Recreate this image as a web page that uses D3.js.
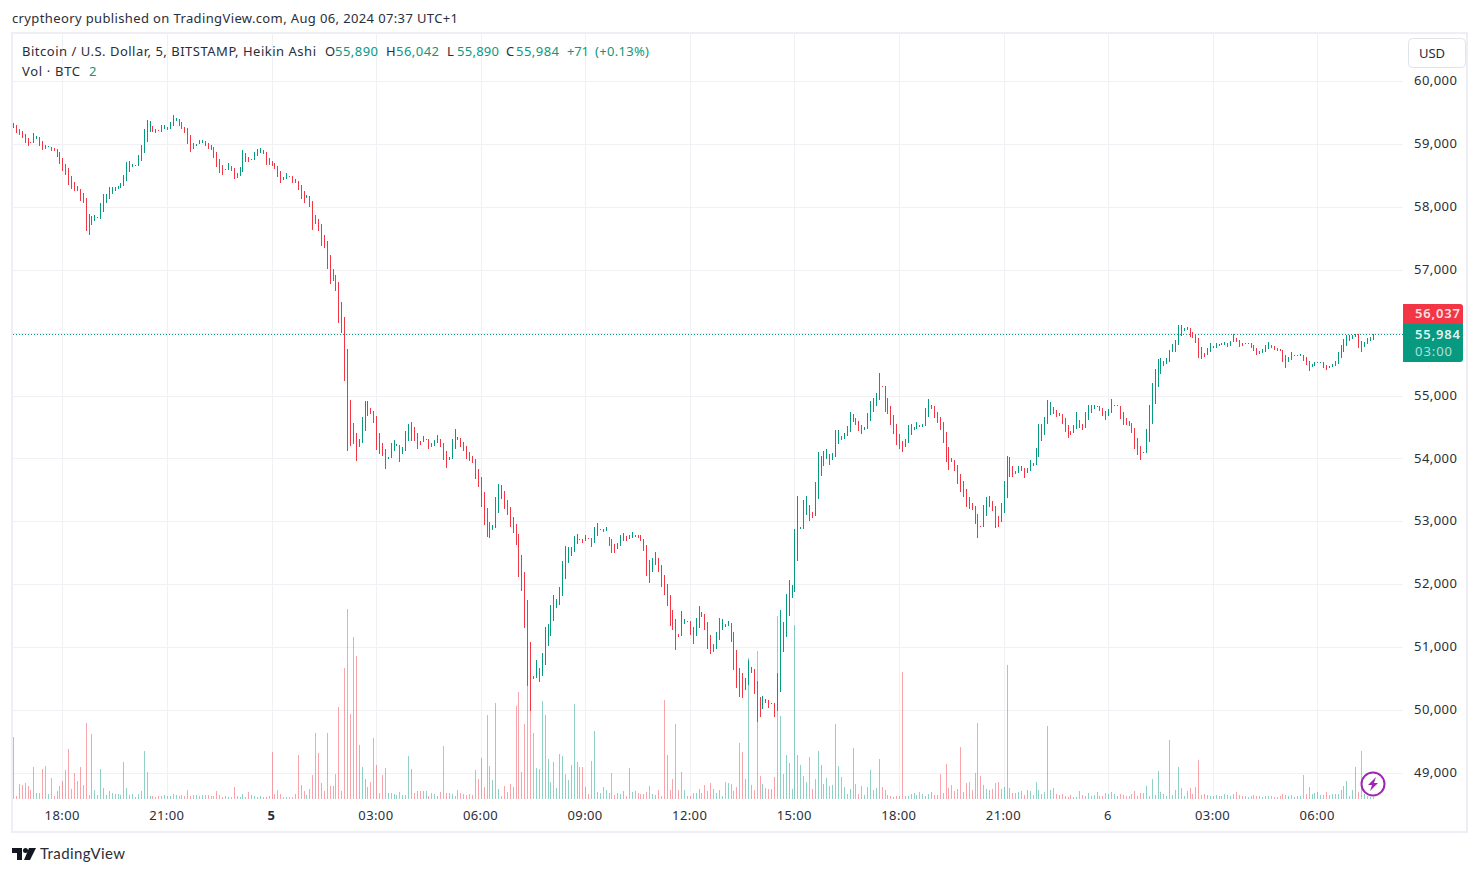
<!DOCTYPE html>
<html><head><meta charset="utf-8">
<script src="https://cdn.jsdelivr.net/npm/d3@7/dist/d3.min.js"></script>
<style>html,body{margin:0;padding:0;background:#fff;overflow:hidden}svg{display:block}</style>
</head><body><svg id="c" width="1479" height="875"></svg>
<script>
const highs=[59332,59300,59237,59205,59157,59094,59030,59168,59126,59110,
59046,58977,58967,58951,58935,58919,58871,58770,58686,58617,
58490,58400,58336,58288,58214,58145,57885,57859,57870,57838,
58060,58203,58198,58315,58315,58315,58325,58378,58511,58718,
58723,58680,58659,58823,58988,59237,59380,59364,59285,59237,
59221,59300,59300,59263,59348,59460,59406,59396,59348,59269,
59253,59142,59014,59004,59062,59062,59041,59014,58982,58951,
58871,58760,58664,58596,58696,58649,58617,58537,58633,58903,
58855,58792,58760,58871,58919,58935,58903,58871,58776,58728,
58696,58649,58569,58474,58537,58490,58490,58442,58410,58347,
58251,58188,58172,58092,57870,57806,57726,57551,57456,57234,
57011,56916,56804,56486,56248,55739,54928,54562,54403,54308,
54658,54912,54912,54801,54753,54674,54403,54244,54149,54022,
54244,54292,54229,54213,54181,54435,54546,54578,54499,54403,
54276,54356,54308,54308,54244,54292,54372,54308,54244,54117,
54022,54308,54467,54340,54324,54260,54197,54101,54038,53990,
53831,53704,53465,53211,52988,52941,53386,53592,53577,53481,
53338,53227,53068,52956,52797,52463,52193,51748,51080,50540,
50794,50667,50905,51319,51366,51669,51828,51764,51955,52368,
52607,52591,52591,52766,52797,52718,52718,52782,52734,52734,
52909,52972,52877,52877,52909,52750,52718,52638,52654,52782,
52813,52766,52782,52829,52782,52782,52782,52718,52622,52384,
52416,52511,52416,52304,52146,52002,51828,51589,51446,51207,
51573,51446,51414,51414,51319,51462,51653,51557,51525,51398,
51191,51048,51239,51462,51446,51366,51414,51382,51239,50953,
50667,50587,50508,50794,50683,50651,50460,50206,50222,50174,
50158,50110,50110,50587,51589,51398,51843,52066,51987,52877,
53402,52909,53338,53402,53259,53147,53624,54101,54038,54117,
54149,54069,54085,54451,54451,54356,54403,54515,54737,54705,
54642,54594,54531,54499,54721,54912,54960,55039,55357,55151,
55151,54960,54833,54690,54546,54387,54276,54308,54531,54546,
54499,54578,54531,54546,54801,54944,54849,54833,54737,54658,
54578,54419,54181,54006,53974,53895,53751,53640,53513,53386,
53290,53243,53115,52925,53259,53386,53402,53322,53243,53084,
53290,53640,54038,54022,53879,53799,53879,53879,53847,53847,
53974,53926,54165,54546,54546,54658,54928,54896,54817,54769,
54721,54705,54642,54531,54435,54531,54737,54610,54546,54737,
54849,54849,54849,54833,54833,54801,54753,54785,54944,54849,
54849,54833,54737,54642,54594,54562,54483,54324,54197,54101,
54467,54849,55198,55421,55580,55596,55548,55596,55723,55818,
55882,56120,56120,56073,56089,56073,56009,55977,55914,55771,
55675,55755,55834,55787,55834,55818,55834,55850,55834,55866,
55977,55914,55882,55834,55834,55834,55834,55802,55755,55707,
55739,55802,55850,55802,55787,55755,55739,55723,55643,55612,
55691,55643,55643,55654,55643,55612,55548,55500,55532,55532,
55532,55532,55485,55469,55500,55548,55691,55802,55898,55961,
55961,55961,55977,55977,55866,55850,55914,55930,55984];
const lows=[59258,59179,59142,59099,59020,58972,59014,59020,59083,58972,
58908,58924,58956,58892,58892,58797,58686,58574,58511,58352,
58288,58256,58256,58097,58066,57620,57557,57716,57779,57827,
57811,57922,58060,58129,58209,58256,58288,58304,58336,58410,
58559,58633,58649,58654,58733,58850,59035,59195,59189,59179,
59210,59195,59237,59221,59237,59290,59364,59285,59237,59173,
59000,58877,58924,58972,58993,59014,58972,58919,58903,58781,
58633,58537,58511,58585,58585,58574,58442,58463,58490,58553,
58712,58712,58744,58744,58813,58861,58845,58664,58664,58649,
58601,58474,58378,58426,58447,58479,58378,58378,58267,58124,
58060,58145,58002,57631,57726,57615,57377,57345,57011,56772,
56820,56661,56152,55993,55230,54117,54197,54229,53958,54181,
54244,54435,54674,54705,54562,54133,54069,54038,53831,53990,
54006,54117,54197,53942,54069,54117,54276,54276,54276,54149,
54213,54260,54292,54149,54181,54197,54244,54181,53974,53847,
53974,53990,54149,54292,54181,54117,53990,53958,53926,53672,
53545,53227,52941,52750,52734,52861,52893,53131,53354,53195,
53100,52909,52813,52622,52114,51891,51303,50381,49983,50492,
50508,50444,50540,50714,51017,51176,51414,51621,51669,51812,
52082,52336,52448,52511,52638,52702,52654,52686,52718,52591,
52654,52766,52861,52829,52845,52607,52495,52495,52559,52607,
52686,52686,52718,52734,52750,52734,52691,52527,52130,52018,
52193,52304,52193,51955,51828,51653,51335,51271,50953,51160,
51176,51366,51398,51191,51048,51176,51303,51478,51271,50969,
50889,50921,50969,51112,51271,51319,51335,51080,50635,50349,
50206,50190,50317,50397,50587,50253,49808,49888,50015,50110,
50031,50094,49888,49983,50285,50921,51160,51494,51780,51875,
52368,52877,52877,53100,53004,53052,53084,53354,53720,53879,
53990,53895,53974,54022,54228,54292,54308,54356,54424,54578,
54531,54435,54387,54451,54467,54594,54737,54833,54928,55135,
54737,54705,54531,54387,54212,54149,54101,54181,54244,54372,
54451,54467,54499,54499,54515,54658,54785,54642,54562,54451,
54244,53942,53815,53942,53799,53592,53465,53386,53227,53195,
53179,52956,52734,52909,52909,53084,53227,53163,52893,52909,
52988,53131,53370,53704,53704,53751,53767,53799,53688,53767,
53799,53879,53895,54022,54276,54372,54546,54690,54705,54658,
54674,54546,54419,54324,54372,54403,54467,54483,54451,54483,
54610,54721,54785,54817,54753,54674,54610,54674,54721,54833,
54833,54626,54530,54530,54515,54403,54149,54054,53974,54085,
54085,54260,54546,54864,55135,55341,55469,55500,55532,55691,
55691,55802,55946,56025,56041,55930,55914,55834,55596,55580,
55612,55643,55691,55755,55755,55787,55802,55802,55771,55787,
55850,55850,55771,55787,55818,55818,55755,55707,55643,55659,
55675,55691,55739,55755,55723,55707,55707,55532,55437,55532,
55564,55627,55627,55627,55548,55485,55389,55453,55469,55516,
55516,55437,55405,55437,55453,55469,55500,55596,55691,55787,
55866,55898,55930,55755,55691,55771,55818,55866,55890];
const directions=("ddddddduud"+"dduddddddd"+"ddddddduuu"+"uuuuuuuuuu"+"uuuuuuuudd"+"duuduuuddd"+"ddduuudddd"+"ddduuddduu"+"uduuuudddd"+"dddduddddd"+
"dudddddddd"+"dddddddddu"+"uuuddddddu"+"uuuduuuudd"+"duudduuddd"+"uuuudddddd"+"ddddduuuud"+"dddddddddd"+"uduuuuuuuu"+"uuuuuddudd"+
"uuududdduu"+"uduudddddd"+"uudddddddd"+"uuudduuudd"+"dduuududdd"+"dduuuddduu"+"duduuuuuuu"+"uuuudduuuu"+"uduuuduuuu"+"ddduuuuuud"+
"ddddddduuu"+"uuduuuuddd"+"dddddddddd"+"dddduuuddd"+"uuuudduudu"+"uuuuuuuudd"+"ddddduuddu"+"uuuuddduuu"+"uddddddddu"+"uuuuuuuuuu"+
"uuuuuddddd"+"duuuuuuudu"+"uddduudddd"+"uuuddddddu"+"uuuuddduuu"+"uuduuuuuuu"+"uuudduuuu").split("");
const volumes=[62,3,15,14,16,13,9,32,6,6,30,33,5,21,3,8,13,18,29,50,
10,26,18,32,14,76,4,65,9,4,30,11,4,8,6,5,5,4,37,11,
4,5,2,5,8,48,27,3,3,2,3,3,4,3,3,5,4,3,4,3,
9,3,4,4,3,4,4,4,3,3,8,4,2,3,2,2,12,3,2,5,
2,7,4,3,2,3,2,2,3,47,5,9,5,2,2,2,2,5,44,14,
8,4,10,24,66,46,16,8,66,13,13,25,92,8,131,190,85,162,143,54,
32,20,12,17,61,34,6,24,31,6,6,5,4,7,4,4,43,30,6,8,
8,8,8,3,6,5,3,7,53,6,6,5,3,9,6,5,4,5,4,29,
20,41,12,84,33,19,96,10,3,13,7,15,12,93,107,27,75,115,105,66,
31,30,98,84,40,17,37,11,45,43,25,19,34,95,37,32,32,12,5,38,
68,7,6,12,9,6,26,4,6,5,8,3,31,7,8,6,5,5,7,13,
5,4,9,3,99,44,9,20,75,9,27,9,3,3,6,6,10,6,14,8,
16,10,6,9,3,17,16,15,8,12,56,47,20,141,14,9,148,23,15,11,
10,10,22,183,83,25,44,36,10,174,44,34,23,17,42,10,20,48,34,15,
21,13,14,75,33,22,12,5,10,51,15,5,13,4,12,29,9,11,40,12,
9,4,3,2,3,3,127,3,3,5,6,4,7,5,3,5,7,4,4,25,
6,35,11,14,8,10,52,7,16,17,9,26,76,23,14,10,9,10,16,17,
10,12,134,11,6,6,7,8,4,9,8,4,17,9,5,7,73,9,11,5,
4,5,3,2,4,2,2,8,4,3,6,3,4,7,3,3,6,5,7,5,
3,5,4,3,3,5,8,3,6,6,13,3,20,4,28,7,5,3,59,4,
9,32,11,3,8,11,5,12,39,4,5,4,3,3,4,3,3,5,4,3,
5,7,4,3,3,2,3,4,3,3,2,3,3,3,2,2,3,5,4,3,
4,2,3,3,24,5,12,5,6,7,4,4,7,4,5,5,5,9,13,18,
3,9,32,7,48,5,3,2,2];
const priceTicks=[49000,50000,51000,52000,53000,54000,55000,56000,57000,58000,59000,60000];
const coveredPriceTicks=[56000];
const timeTickIndex=[17,53,89,125,161,197,233,269,305,341,377,413,449];
const timeTickLabels=["18:00","21:00","5","03:00","06:00","09:00","12:00","15:00","18:00","21:00","6","03:00","06:00"];
const boldTimeLabels=["5"];
const lastPrice=55984, lastOpenLabel=56037;

const FONT='"Noto Sans",sans-serif', TXT='#2a2e39';
const UP='#089981', DOWN='#F23645', GRID='#f0f1f4';
const svg=d3.select('#c');
const x=d3.scaleLinear().domain([0,468]).range([13.5,13.5+2.905*468]);
const col=i=>Math.floor(x(i));
const y=d3.scaleLinear().domain([49000,60000]).range([773,81]);
const yVol=d3.scaleLinear().domain([0,190]).range([799,609]);

// frame
svg.append('rect').attr('x',12).attr('y',33).attr('width',1455).attr('height',799)
  .attr('fill','#fff').attr('stroke','#eeeef4').attr('stroke-width',2);

// grid
const gGrid=svg.append('g').attr('shape-rendering','crispEdges').attr('stroke',GRID);
gGrid.selectAll('line.h').data(priceTicks).join('line').attr('class','h')
  .attr('x1',13).attr('x2',1403).attr('y1',d=>Math.round(y(d))+.5).attr('y2',d=>Math.round(y(d))+.5);
gGrid.selectAll('line.v').data(timeTickIndex).join('line').attr('class','v')
  .attr('x1',d=>col(d)+.5).attr('x2',d=>col(d)+.5).attr('y1',34).attr('y2',799);

// volume
const idx=d3.range(highs.length);
svg.append('g').attr('shape-rendering','crispEdges').selectAll('rect').data(idx).join('rect')
  .attr('x',col).attr('width',1)
  .attr('y',i=>yVol(volumes[i])).attr('height',i=>yVol(0)-yVol(volumes[i]))
  .attr('fill',i=>directions[i]==='u'?'rgba(8,153,129,.45)':'rgba(242,54,69,.45)');

// last price line
svg.append('line').attr('x1',13).attr('x2',1403).attr('y1',334.5).attr('y2',334.5)
  .attr('stroke',UP).attr('stroke-width',1).attr('stroke-dasharray','1 2');

// candles
svg.append('g').attr('shape-rendering','crispEdges').selectAll('rect').data(idx).join('rect')
  .attr('x',col).attr('width',1)
  .attr('y',i=>y(highs[i])).attr('height',i=>Math.max(1,y(lows[i])-y(highs[i])))
  .attr('fill',i=>directions[i]==='u'?UP:DOWN);

// axes
const yAxis=d3.axisRight(y).tickValues(priceTicks.filter(d=>!coveredPriceTicks.includes(d)))
  .tickFormat(d3.format(',')).tickSize(0).tickPadding(0);
const gy=svg.append('g').attr('transform','translate(1414,-0.6)').call(yAxis);
gy.select('.domain').remove();
gy.selectAll('text').attr('font-family',FONT).attr('font-size',13).attr('fill',TXT).attr('letter-spacing',.45);

const xAxis=d3.axisBottom(x).tickValues(timeTickIndex)
  .tickFormat(d=>timeTickLabels[timeTickIndex.indexOf(d)]).tickSize(0).tickPadding(0);
const gx=svg.append('g').attr('transform','translate(-1.2,811)').call(xAxis);
gx.select('.domain').remove();
gx.selectAll('text').attr('font-family',FONT).attr('font-size',13).attr('fill',TXT).attr('letter-spacing',.4)
  .attr('font-weight',function(){return boldTimeLabels.includes(this.textContent)?700:400});

// texts
function t(s,px,py,o={}){const e=svg.append('text').attr('x',px).attr('y',py).text(s)
  .attr('font-family',FONT).attr('font-size',o.size||13).attr('fill',o.fill||TXT)
  .attr('font-weight',o.weight||400).attr('text-anchor',o.anchor||'start')
  .attr('fill-opacity',o.op||1);
  if(o.len) e.attr('textLength',o.len);
  return e;}
t('cryptheory published on TradingView.com, Aug 06, 2024 07:37 UTC+1',12,23,{len:446});
t('Bitcoin / U.S. Dollar, 5, BITSTAMP, Heikin Ashi',22,56,{len:294});
[['O',325,'55,890',335,43],['H',386,'56,042',396,43],['L',447,'55,890',457,42],['C',506,'55,984',516,43]].forEach(a=>{
  t(a[0],a[1],56); t(a[2],a[3],56,{fill:UP,len:a[4]});
});
t('+71',567,56,{fill:UP,len:22}); t('(+0.13%)',595,56,{fill:UP,len:54});
t('Vol · BTC',22,76,{len:58}); t('2',89,76,{fill:UP});

// USD button
svg.append('rect').attr('x',1408.5).attr('y',38.5).attr('width',57).attr('height',29).attr('rx',4)
  .attr('fill','#fff').attr('stroke','#e0e3eb');
t('USD',1432,58,{anchor:'middle'});

// price tags
svg.append('path').attr('d','M1403,304H1460a3,3 0 0 1 3,3V324H1403Z').attr('fill',DOWN);
svg.append('path').attr('d','M1403,324H1463V359a3,3 0 0 1 -3,3H1403Z').attr('fill',UP);
t(d3.format(',')(lastOpenLabel),1415,318,{fill:'#fff',weight:600,op:.85,len:45});
t(d3.format(',')(lastPrice),1415,339,{fill:'#fff',weight:600,op:.9,len:45});
t('03:00',1415,356,{fill:'#fff',op:.7,len:37});

// bolt
svg.append('circle').attr('cx',1373).attr('cy',784).attr('r',11.5).attr('fill','#fff').attr('stroke','#9c27b0').attr('stroke-width',2);
svg.append('path').attr('d','M1376,777L1368,785H1372L1370,791L1378,783H1374Z').attr('fill','#9c27b0');

// logo
const lg=svg.append('g').attr('fill','#131722');
lg.append('path').attr('d','M12,848H22V860H17V853H12Z');
lg.append('circle').attr('cx',25.5).attr('cy',850.5).attr('r',2.5);
lg.append('path').attr('d','M29,848H36L30,860H24Z');
t('TradingView',40,859,{size:15,fill:'#2a2e39',len:85}).attr('font-family','Lato,sans-serif');
</script></body></html>
